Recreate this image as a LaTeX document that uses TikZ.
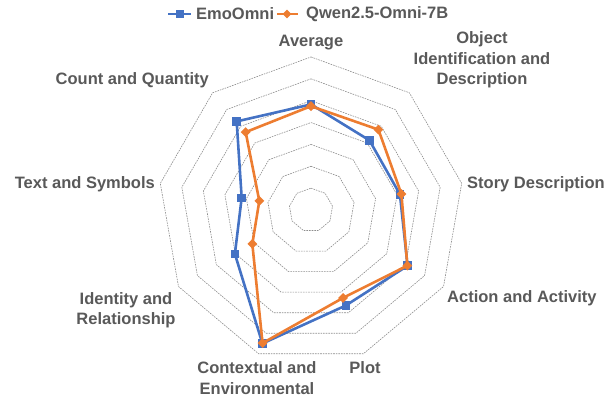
\documentclass[tikz,border=0pt]{standalone}
\usepackage{fontspec}
\setmainfont{Liberation Sans}
\usetikzlibrary{shapes.geometric}
\definecolor{cblue}{HTML}{4472C4}
\definecolor{corange}{HTML}{ED7D31}
\definecolor{ctext}{HTML}{595959}
\definecolor{cgrid}{HTML}{8C8C8C}
\tikzset{
  lab/.style={font=\bfseries\fontsize{16.5}{20.5}\selectfont, text=ctext, align=center, inner sep=0pt},
  gridline/.style={draw=cgrid, line width=0.6pt, dash pattern=on 1.6pt off 1pt},
  bline/.style={draw=cblue, line width=2.6pt, line join=round},
  oline/.style={draw=corange, line width=2.6pt, line join=round},
  bsq/.style={rectangle, fill=cblue, minimum size=8.5pt, inner sep=0pt},
  odia/.style={diamond, fill=corange, minimum size=10pt, inner sep=0pt},
}
\begin{document}
\begin{tikzpicture}[x=1pt,y=-1pt]
\useasboundingbox (0,0) rectangle (614,398);
% legend
\coordinate (lb1) at (168,14); \coordinate (lb2) at (191,14);
\draw[bline, line width=2.2pt] (lb1) -- (lb2);
\node[bsq, minimum size=7.5pt] (lbm) at (180,14) {};
\node[lab, anchor=west] (lbt) at (196,14) {EmoOmni};
\coordinate (lo1) at (277,14); \coordinate (lo2) at (298,14);
\draw[oline, line width=2.2pt] (lo1) -- (lo2);
\node[odia, minimum size=9pt] (lom) at (287,14) {};
\node[lab, anchor=west] (lot) at (306,14) {Qwen2.5-Omni-7B};
\begin{scope}[shift={(311,210)}]
\coordinate (c) at (0,0);
\foreach \k in {1,...,7}{
  \draw[gridline] (-90:\k*21.86) -- (-50:\k*21.86) -- (-10:\k*21.86) -- (30:\k*21.86) -- (70:\k*21.86) -- (110:\k*21.86) -- (150:\k*21.86) -- (190:\k*21.86) -- (230:\k*21.86) -- cycle;
}
\foreach \i/\v in {0/4.83,1/4.16,2/4.13,3/5.1,4/4.65,5/6.5,6/4.02,7/3.22,8/5.29}
  \coordinate (b\i) at (-90+40*\i:\v*21.86);
\foreach \i/\v in {0/4.75,1/4.8,2/4.2,3/5.09,4/4.28,5/6.48,6/3.1,7/2.4,8/4.65}
  \coordinate (o\i) at (-90+40*\i:\v*21.86);
\draw[bline] (b0) -- (b1) -- (b2) -- (b3) -- (b4) -- (b5) -- (b6) -- (b7) -- (b8) -- cycle;
\foreach \i in {0,...,8} \node[bsq] (bm\i) at (b\i) {};
\draw[oline] (o0) -- (o1) -- (o2) -- (o3) -- (o4) -- (o5) -- (o6) -- (o7) -- (o8) -- cycle;
\foreach \i in {0,...,8} \node[odia] (om\i) at (o\i) {};
\end{scope}
% axis labels
\node[lab] (l0) at (311,43) {Average};
\node[lab] (l1) at (482,60) {Object\\Identification and\\Description};
\node[lab, anchor=west] (l2) at (467,184) {Story Description};
\node[lab, anchor=west] (l3) at (447,298) {Action and Activity};
\node[lab] (l4) at (365,368) {Plot};
\node[lab] (l5) at (257,378) {Contextual and\\Environmental};
\node[lab] (l6) at (126,310) {Identity and\\Relationship};
\node[lab, anchor=east] (l7) at (155,184) {Text and Symbols};
\node[lab, anchor=east] (l8) at (209,80) {Count and Quantity};
\end{tikzpicture}
\end{document}
